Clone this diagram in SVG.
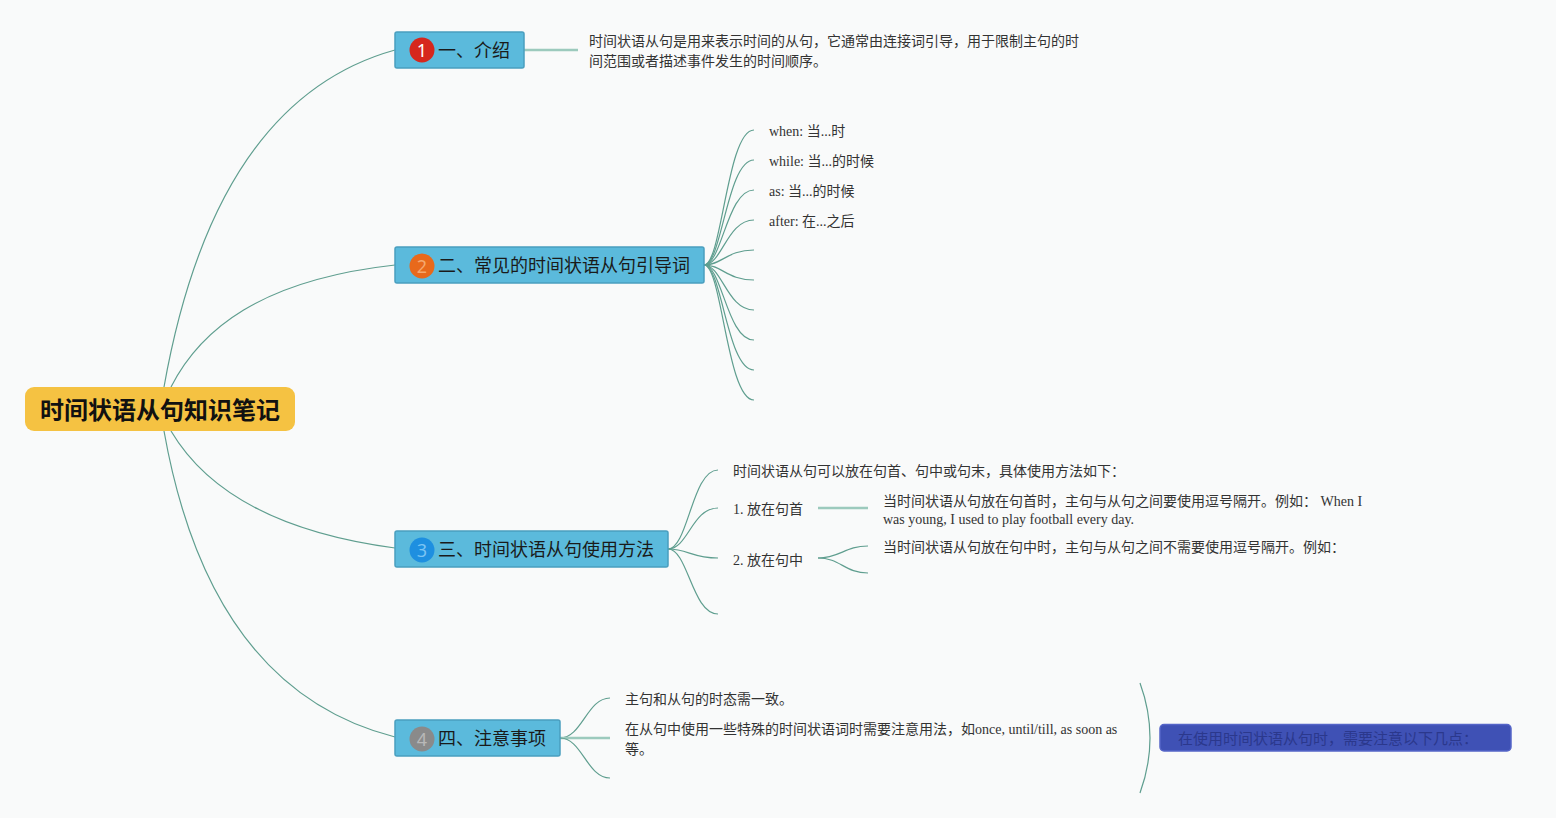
<svg xmlns="http://www.w3.org/2000/svg" width="1556" height="818" viewBox="0 0 1556 818">
<style>
.bg{fill:#f9fafa}
.c{fill:none;stroke:#5f9e8f;stroke-width:1.2}
.cs{fill:none;stroke:#9ccabd;stroke-width:2.5}
.topic{fill:#5bbadc;stroke:#4a9fbf;stroke-width:1.5}
.tt{font-family:"Noto Sans CJK SC","Noto Sans",sans-serif;font-size:18px;fill:#1a1a1a}
.bn{font-family:"Noto Sans","Noto Sans CJK SC",sans-serif;font-size:18px;text-anchor:middle}
.leaf{font-family:"Liberation Serif","Noto Sans CJK SC",serif;font-size:14px;fill:#333}
</style>
<rect class="bg" x="0" y="0" width="1556" height="818"/>
<g id="connectors">
<path class="c" d="M164,387 Q215,100 395,50"/>
<path class="c" d="M171,387 C200,330 260,280 395,265"/>
<path class="c" d="M171,431 C200,480 260,530 395,548"/>
<path class="c" d="M164,431 Q210,690 395,737"/>
<path class="cs" d="M524,50 L578,50"/>
<path class="c" d="M704,265 C722,265 727,130 754,130"/>
<path class="c" d="M704,265 C722,265 727,160 754,160"/>
<path class="c" d="M704,265 C722,265 727,190 754,190"/>
<path class="c" d="M704,265 C722,265 727,220 754,220"/>
<path class="c" d="M704,265 C722,265 727,250 754,250"/>
<path class="c" d="M704,265 C722,265 727,280 754,280"/>
<path class="c" d="M704,265 C722,265 727,310 754,310"/>
<path class="c" d="M704,265 C722,265 727,340 754,340"/>
<path class="c" d="M704,265 C722,265 727,370 754,370"/>
<path class="c" d="M704,265 C722,265 727,400 754,400"/>
<path class="c" d="M668,549 C688,549 692,470 718,470"/>
<path class="c" d="M668,549 C688,549 692,508 718,508"/>
<path class="c" d="M668,549 C688,549 692,558 718,558"/>
<path class="c" d="M668,549 C688,549 692,614 718,614"/>
<path class="cs" d="M818,508 L868,508"/>
<path class="c" d="M818,558 C840,558 845,546 868,546"/>
<path class="c" d="M818,558 C840,558 845,573 868,573"/>
<path class="c" d="M560,738 C582,738 587,698 610,698"/>
<path class="cs" d="M560,738 L610,738"/>
<path class="c" d="M560,738 C582,738 587,778 610,778"/>
<path class="c" d="M1140,683 Q1160,738 1140,793"/>
</g>
<g id="root">
<rect x="25" y="387" width="270" height="44" rx="9" fill="#f5c242"/>
<text x="160" y="419" text-anchor="middle" font-family="Noto Sans CJK SC,sans-serif" font-size="24" font-weight="bold" fill="#111">时间状语从句知识笔记</text>
</g>
<g id="n1">
<rect class="topic" x="395" y="32" width="129" height="36" rx="2"/>
<circle cx="422" cy="50" r="12.5" fill="#d6271d"/>
<text class="bn" x="422" y="56.5" fill="#ffffff">1</text>
<text class="tt" x="438" y="56.5">一、介绍</text>
</g>
<g id="n1-text">
<text class="leaf" x="589" y="46">时间状语从句是用来表示时间的从句，它通常由连接词引导，用于限制主句的时</text>
<text class="leaf" x="589" y="66">间范围或者描述事件发生的时间顺序。</text>
</g>
<g id="n2">
<rect class="topic" x="395" y="247" width="309" height="36" rx="2"/>
<circle cx="422" cy="266" r="12.5" fill="#e8691b"/>
<text class="bn" x="422" y="272.5" fill="#f5a86e">2</text>
<text class="tt" x="438" y="271.5">二、常见的时间状语从句引导词</text>
</g>
<g id="n2-leaves">
<text class="leaf" x="769" y="136">when: 当...时</text>
<text class="leaf" x="769" y="166">while: 当...的时候</text>
<text class="leaf" x="769" y="196">as: 当...的时候</text>
<text class="leaf" x="769" y="226">after: 在...之后</text>
</g>
<g id="n3">
<rect class="topic" x="395" y="531" width="273" height="36" rx="2"/>
<circle cx="422" cy="550" r="12.5" fill="#1e8fe0"/>
<text class="bn" x="422" y="556.5" fill="#7cc4f3">3</text>
<text class="tt" x="438" y="555.5">三、时间状语从句使用方法</text>
</g>
<g id="n3-leaves">
<text class="leaf" x="733" y="476">时间状语从句可以放在句首、句中或句末，具体使用方法如下：</text>
<text class="leaf" x="733" y="514">1. 放在句首</text>
<text class="leaf" x="733" y="565">2. 放在句中</text>
<text class="leaf" x="883" y="506">当时间状语从句放在句首时，主句与从句之间要使用逗号隔开。例如： When I</text>
<text class="leaf" x="883" y="524">was young, I used to play football every day.</text>
<text class="leaf" x="883" y="552">当时间状语从句放在句中时，主句与从句之间不需要使用逗号隔开。例如：</text>
</g>
<g id="n4">
<rect class="topic" x="395" y="720" width="165" height="36" rx="2"/>
<circle cx="422" cy="739" r="12.5" fill="#8a8a8a"/>
<text class="bn" x="422" y="745.5" fill="#b8b8b8">4</text>
<text class="tt" x="438" y="744.5">四、注意事项</text>
</g>
<g id="n4-leaves">
<text class="leaf" x="625" y="704">主句和从句的时态需一致。</text>
<text class="leaf" x="625" y="734">在从句中使用一些特殊的时间状语词时需要注意用法，如once, until/till, as soon as</text>
<text class="leaf" x="625" y="754">等。</text>
</g>
<g id="summary">
<rect x="1160" y="724.5" width="351" height="26.5" rx="4" fill="#3f51b5" stroke="#5565c8" stroke-width="1.5"/>
<text x="1328" y="743.5" text-anchor="middle" font-family="Noto Sans CJK SC,sans-serif" font-size="15" fill="#2b388c">在使用时间状语从句时，需要注意以下几点：</text>
</g>
</svg>
